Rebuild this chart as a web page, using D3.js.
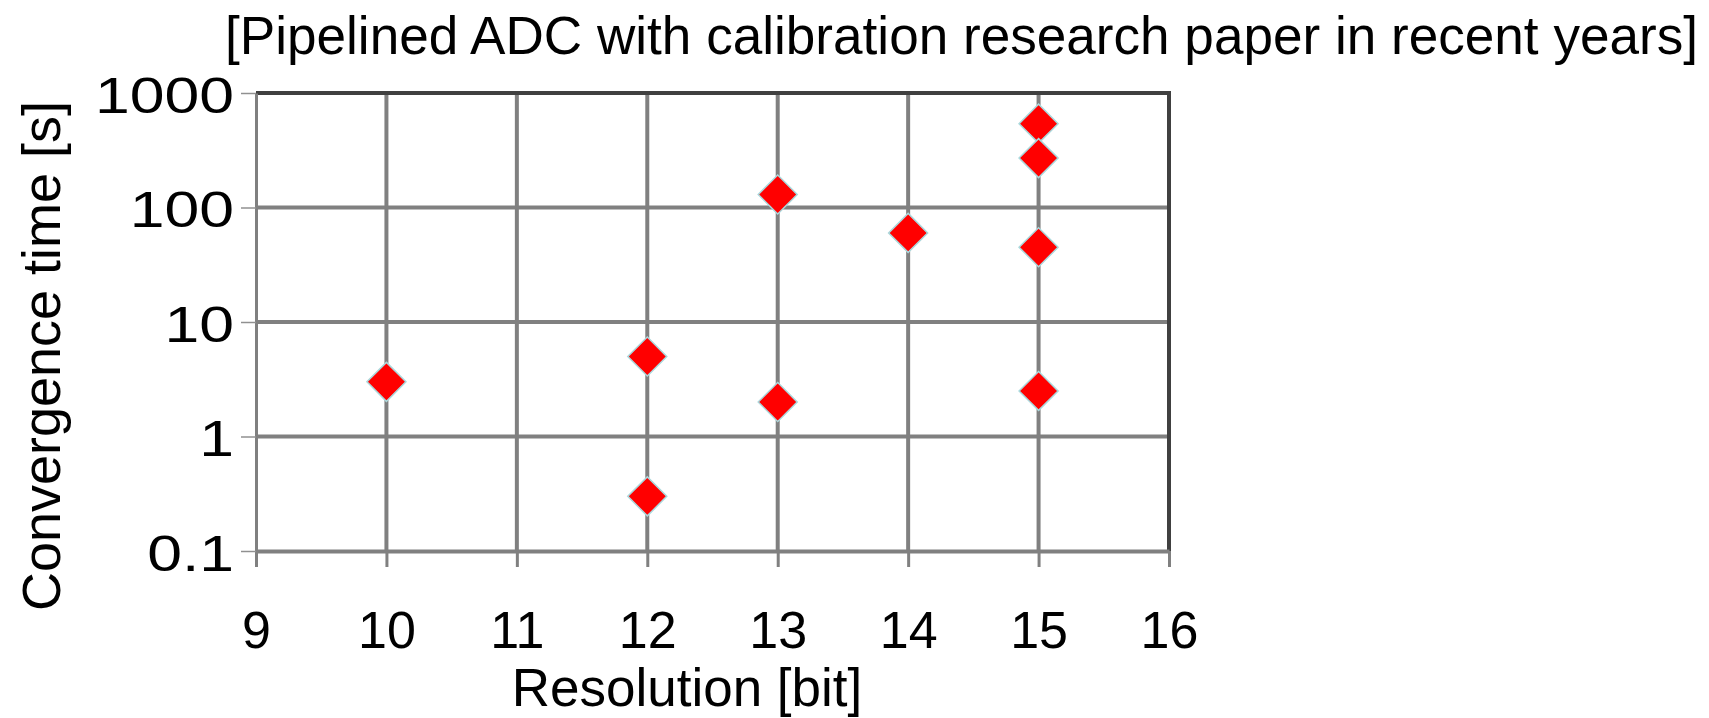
<!DOCTYPE html>
<html>
<head>
<meta charset="utf-8">
<script src="https://cdn.jsdelivr.net/npm/d3@7"></script>
<style>
  body { margin: 0; background: #fff; }
  text { font-family: "Liberation Sans", Arial, sans-serif; fill: #000; }
</style>
</head>
<body>
<div id="chart"></div>
<script>
// data
const resolution = [10, 12, 12, 13, 13, 14, 15, 15, 15, 15];
const convTime = [3, 5, 0.3, 130, 2, 60, 540, 270, 45, 2.5];
const xTicks = [9, 10, 11, 12, 13, 14, 15, 16];
const yTicks = [0.1, 1, 10, 100, 1000];
const yTickLabels = ["0.1", "1", "10", "100", "1000"];

const W = 1709, H = 718;
const margin = { top: 93, right: 540, bottom: 167, left: 256 };
const width = W - margin.left - margin.right;
const height = H - margin.top - margin.bottom;

const svg = d3.select("#chart").append("svg")
  .attr("width", W)
  .attr("height", H);

const g = svg.append("g")
  .attr("transform", `translate(${margin.left},${margin.top})`);

const x = d3.scaleLinear().domain([9, 16]).range([0, width]);
const y = d3.scaleLog().domain([0.1, 1000]).range([height, 0]);

// grid
g.append("g").selectAll("line")
  .data(yTicks.filter(d => d > 0.1 && d < 1000))
  .join("line")
  .attr("x1", 0).attr("x2", width)
  .attr("y1", d => y(d)).attr("y2", d => y(d))
  .attr("stroke", "#808080").attr("stroke-width", 4);

g.append("g").selectAll("line")
  .data(xTicks.filter(d => d > 9 && d < 16))
  .join("line")
  .attr("x1", d => x(d)).attr("x2", d => x(d))
  .attr("y1", 0).attr("y2", height)
  .attr("stroke", "#808080").attr("stroke-width", 4);

// top + right frame
g.append("path")
  .attr("d", `M0,0H${width}V${height}`)
  .attr("fill", "none")
  .attr("stroke", "#404040")
  .attr("stroke-width", 4);

// x axis
const xAxis = g.append("g")
  .attr("transform", `translate(0,${height})`)
  .call(d3.axisBottom(x).tickValues(xTicks).tickFormat(d3.format("d"))
    .tickSize(16).tickSizeOuter(0).tickPadding(44));
xAxis.select(".domain").attr("stroke", "#808080").attr("stroke-width", 4);
xAxis.selectAll(".tick line").attr("stroke", "#808080").attr("stroke-width", 3);
xAxis.selectAll(".tick text")
  .attr("font-size", 52)
  .attr("font-family", "Liberation Sans, Arial, sans-serif")
  .attr("fill", "#000");

// y axis
const yAxis = g.append("g")
  .call(d3.axisLeft(y).tickValues(yTicks).tickFormat((d, i) => yTickLabels[i])
    .tickSize(15).tickSizeOuter(0).tickPadding(0));
yAxis.select(".domain").attr("stroke", "#808080").attr("stroke-width", 3);
yAxis.selectAll(".tick line").attr("stroke", "#909090").attr("stroke-width", 1.5);
yAxis.selectAll(".tick text")
  .attr("font-size", 50)
  .attr("font-family", "Liberation Sans, Arial, sans-serif")
  .attr("fill", "#000")
  .attr("x", null)
  .attr("dy", "0.38em")
  .attr("transform", "translate(-22,0) scale(1.25,1)");

// points
const diamond = d3.symbol().type(d3.symbolSquare).size(760);
g.append("g").selectAll("path")
  .data(resolution.map((r, i) => ({ r, t: convTime[i] })))
  .join("path")
  .attr("d", diamond)
  .attr("transform", d => `translate(${x(d.r)},${y(d.t)}) rotate(45)`)
  .attr("fill", "#ff0000")
  .attr("stroke", "#aad8dc")
  .attr("stroke-width", 1.5);

// titles
svg.append("text")
  .attr("x", 225).attr("y", 54)
  .attr("font-size", 53)
  .attr("textLength", 1473)
  .attr("lengthAdjust", "spacingAndGlyphs")
  .text("[Pipelined ADC with calibration research paper in recent years]");

svg.append("text")
  .attr("x", 687).attr("y", 706)
  .attr("text-anchor", "middle")
  .attr("font-size", 53)
  .text("Resolution [bit]");

svg.append("text")
  .attr("transform", "translate(60,356) rotate(-90)")
  .attr("text-anchor", "middle")
  .attr("font-size", 54)
  .text("Convergence time [s]");
</script>
</body>
</html>
